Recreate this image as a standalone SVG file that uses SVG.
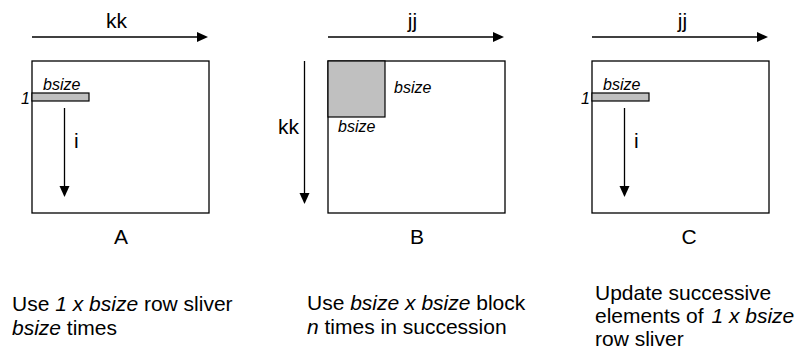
<svg xmlns="http://www.w3.org/2000/svg" width="798" height="350" viewBox="0 0 798 350">
<style>
  text { font-family: "Liberation Sans", Arial, sans-serif; fill: #000; }
  .big { font-size: 21px; }
  .lbl { font-size: 16px; font-style: italic; }
  .it { font-style: italic; }
  .mid { text-anchor: middle; }
  .box { fill: #fff; stroke: #000; stroke-width: 1.3; }
  .blk { fill: #c0c0c0; stroke: #000; stroke-width: 1.2; }
  .conn { stroke: #000; stroke-width: 1.3; fill: none; marker-end: url(#ah); }
</style>
<defs>
  <marker id="ah" markerUnits="userSpaceOnUse" markerWidth="11" markerHeight="10" refX="0" refY="5" orient="auto" overflow="visible">
    <path d="M0,0 L11,5 L0,10 z" fill="#000"/>
  </marker>
</defs>
<rect width="798" height="350" fill="#fff"/>

<g id="nodeA">
  <rect class="box" x="32" y="61" width="177" height="152"/>
  <rect class="blk" x="32" y="93" width="57" height="8"/>
  <text class="lbl" x="43" y="90">bsize</text>
  <text class="lbl" x="21" y="104">1</text>
  <text class="big mid" x="116.5" y="28">kk</text>
  <text class="big" x="74" y="148">i</text>
  <text class="big mid" x="121" y="244">A</text>
</g>

<g id="nodeB">
  <rect class="box" x="328" y="61" width="177" height="152"/>
  <rect class="blk" x="328" y="61" width="57" height="56"/>
  <text class="lbl" x="394" y="93">bsize</text>
  <text class="lbl" x="338" y="132">bsize</text>
  <text class="big mid" x="412.5" y="28">jj</text>
  <text class="big" x="278" y="134">kk</text>
  <text class="big mid" x="417" y="244">B</text>
</g>

<g id="nodeC">
  <rect class="box" x="592" y="61" width="177" height="152"/>
  <rect class="blk" x="592" y="93" width="57" height="8"/>
  <text class="lbl" x="603" y="90">bsize</text>
  <text class="lbl" x="581" y="104">1</text>
  <text class="big mid" x="682.5" y="28">jj</text>
  <text class="big" x="634" y="148">i</text>
  <text class="big mid" x="689" y="244">C</text>
</g>

<g id="connectors">
  <line class="conn" x1="32" y1="37" x2="197" y2="37"/>
  <line class="conn" x1="64.5" y1="108" x2="64.5" y2="186"/>
  <line class="conn" x1="328" y1="37" x2="493" y2="37"/>
  <line class="conn" x1="304.5" y1="61" x2="304.5" y2="193"/>
  <line class="conn" x1="592" y1="37" x2="757" y2="37"/>
  <line class="conn" x1="624.5" y1="108" x2="624.5" y2="186"/>
</g>

<g id="captionA">
  <text class="big" x="12" y="311">Use <tspan class="it">1 x bsize</tspan> row sliver</text>
  <text class="big" x="12" y="335"><tspan class="it">bsize</tspan> times</text>
</g>
<g id="captionB">
  <text class="big" x="307" y="310">Use <tspan class="it">bsize x bsize</tspan> block</text>
  <text class="big" x="307" y="334"><tspan class="it">n</tspan> times in succession</text>
</g>
<g id="captionC">
  <text class="big" x="595" y="300">Update successive</text>
  <text class="big" x="595" y="323">elements of <tspan class="it" dx="2">1 x bsize</tspan></text>
  <text class="big" x="595" y="346">row sliver</text>
</g>
</svg>
